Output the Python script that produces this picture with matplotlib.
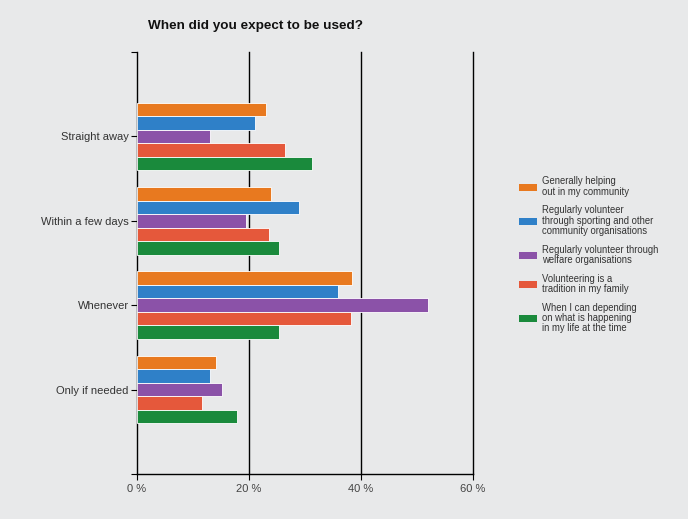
import matplotlib
matplotlib.use("Agg")
import matplotlib.pyplot as plt
import numpy as np
from matplotlib.patches import Patch

plt.rcParams["font.family"] = ["Liberation Sans", "DejaVu Sans"]

categories = ["Straight away", "Within a few days", "Whenever", "Only if needed"]
series_names = [
    "Generally helping\nout in my community",
    "Regularly volunteer\nthrough sporting and other\ncommunity organisations",
    "Regularly volunteer through\nwelfare organisations",
    "Volunteering is a\ntradition in my family",
    "When I can depending\non what is happening\nin my life at the time",
]
generally_helping = [23.1, 24.0, 38.4, 14.2]
sporting_orgs = [21.1, 29.0, 35.8, 13.1]
welfare_orgs = [13.1, 19.5, 52.0, 15.1]
family_tradition = [26.5, 23.5, 38.2, 11.6]
when_i_can = [31.2, 25.3, 25.3, 17.9]
series_values = [generally_helping, sporting_orgs, welfare_orgs, family_tradition, when_i_can]
colors = ["#E8791F", "#2F80C8", "#8B52A8", "#E5583B", "#1A8A3C"]
x_ticks = [0, 20, 40, 60]
x_tick_labels = ["0 %", "20 %", "40 %", "60 %"]

bg = "#E8E9EA"
fig = plt.figure(figsize=(6.88, 5.19), dpi=100, facecolor=bg)
ax = fig.add_axes([0.199, 0.0867, 0.4887, 0.8131], facecolor=bg)

centers = np.arange(1, len(categories) + 1)
bar_h = 0.16
for i, (vals, c) in enumerate(zip(series_values, colors)):
    offs = (i - 2) * bar_h
    ax.barh(centers + offs, vals, height=bar_h, color=c, edgecolor="white",
            linewidth=0.6, zorder=3)

ax.set_xlim(0, 60)
ax.set_ylim(5, 0)
for x in x_ticks[1:]:
    ax.axvline(x, color="black", linewidth=1.0, zorder=2, clip_on=False)

ax.set_xticks(x_ticks)
ax.set_xticklabels(x_tick_labels, fontsize=8, color="#444444")
ax.set_yticks(list(centers))
ax.set_yticklabels(categories, fontsize=8, color="#333333")
ax.set_yticks([0, 5], minor=True)
ax.tick_params(axis="y", which="both", length=4, width=0.8, pad=2)
ax.tick_params(axis="x", length=4, width=0.8, pad=3)
for s in ["top", "right"]:
    ax.spines[s].set_visible(False)
for s in ["left", "bottom"]:
    ax.spines[s].set_linewidth(1.0)
    ax.spines[s].set_color("black")

fig.text(0.372, 0.949, "When did you expect to be used?", ha="center", va="center",
         fontsize=9.7, fontweight="bold", color="#111111")

handles = [Patch(facecolor=c, edgecolor="none") for c in colors]
leg = fig.legend(handles, series_names, loc="center left",
                 bbox_to_anchor=(0.742, 0.509), frameon=False, fontsize=6.85,
                 handlelength=1.9, handleheight=0.8, handletextpad=0.5,
                 labelspacing=0.9)
for t in leg.get_texts():
    t.set_color("#333333")
    t.set_linespacing(1.05)

fig.savefig("out.png", dpi=100, facecolor=bg)
